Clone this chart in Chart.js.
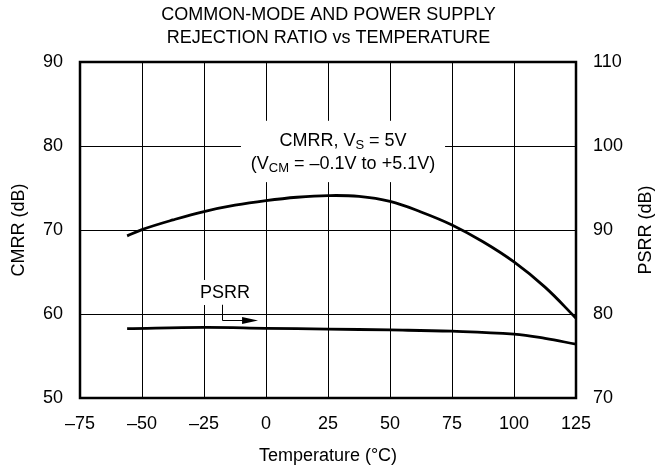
<!DOCTYPE html>
<html>
<head>
<meta charset="utf-8">
<script src="https://cdn.jsdelivr.net/npm/chart.js@4.4.0/dist/chart.umd.min.js"></script>
<style>
  html, body { margin: 0; padding: 0; background: #fff; }
  canvas { display: block; }
</style>
</head>
<body>
<canvas id="chart" width="657" height="470"></canvas>
<script>
const FONT = "'Liberation Sans', Arial, Helvetica, sans-serif";
const SIZE = 18;

// temperature (°C) vs CMRR (dB, left axis)
const cmrrTemps = [-56, -50, -37.5, -25, -12.5, 0, 12.5, 25, 37.5, 50, 62.5, 75, 87.5, 100, 112.5, 125];
const cmrrValues = [69.3, 70.05, 71.2, 72.2, 72.95, 73.5, 73.9, 74.1, 74.0, 73.4, 72.15, 70.6, 68.6, 66.2, 63.2, 59.5];

// temperature (°C) vs PSRR (dB, right axis)
const psrrTemps = [-56, -25, 0, 25, 50, 75, 100, 112.5, 125];
const psrrValues = [78.25, 78.4, 78.3, 78.2, 78.1, 77.95, 77.6, 77.1, 76.4];

const xTicks = [-75, -50, -25, 0, 25, 50, 75, 100, 125];
const leftTicks = [50, 60, 70, 80, 90];
const rightTicks = [70, 80, 90, 100, 110];

const titleLines = ["COMMON-MODE AND POWER SUPPLY", "REJECTION RATIO vs TEMPERATURE"];

const toPoints = (xs, ys) => xs.map((x, i) => ({ x: x, y: ys[i] }));
const dash = v => String(v).replace("-", "\u2013");

// labels, white boxes and the arrow, placed in data units of x / left y
const annotationPlugin = {
  id: "annotations",
  beforeDatasetsDraw(chart) {
    const ctx = chart.ctx;
    const x = chart.scales.x, y = chart.scales.y;
    const box = (x1, y1, x2, y2) => {
      const px = x.getPixelForValue(x1), py = y.getPixelForValue(y1);
      ctx.fillRect(px, py, x.getPixelForValue(x2) - px, y.getPixelForValue(y2) - py);
    };
    ctx.save();
    ctx.fillStyle = "#fff";
    box(-10.1, 83.0, 72.2, 75.7);
    box(-28.6, 64.05, -4.4, 61.07);

    ctx.fillStyle = "#000";
    const cx = x.getPixelForValue(31.05);
    drawRich(ctx, [["CMRR, V"], ["S", true], [" = 5V"]], cx, y.getPixelForValue(80.65));
    drawRich(ctx, [["(V"], ["CM", true], [" = \u20130.1V to +5.1V)"]], cx, y.getPixelForValue(77.9));
    drawRich(ctx, [["PSRR"]], x.getPixelForValue(-16.5), y.getPixelForValue(62.5));

    // arrow pointing at the PSRR curve
    const ax = Math.round(x.getPixelForValue(-17.7));
    const ay1 = y.getPixelForValue(61.1), ay2 = Math.round(y.getPixelForValue(59.3));
    const tip = x.getPixelForValue(-3.2);
    ctx.strokeStyle = "#000";
    ctx.lineWidth = 1;
    ctx.beginPath();
    ctx.moveTo(ax + 0.5, ay1);
    ctx.lineTo(ax + 0.5, ay2 + 0.5);
    ctx.lineTo(tip - 12, ay2 + 0.5);
    ctx.stroke();
    ctx.beginPath();
    ctx.moveTo(tip, ay2 + 0.5);
    ctx.lineTo(tip - 16, ay2 - 3);
    ctx.lineTo(tip - 16, ay2 + 4);
    ctx.closePath();
    ctx.fill();

    // right axis title, reading bottom to top like the left one
    ctx.font = SIZE + "px " + FONT;
    ctx.textAlign = "center";
    ctx.textBaseline = "middle";
    ctx.translate(646, (chart.chartArea.top + chart.chartArea.bottom) / 2);
    ctx.rotate(-Math.PI / 2);
    ctx.fillText("PSRR (dB)", 0, 0);
    ctx.restore();
  },
  afterDraw(chart) {
    const ctx = chart.ctx;
    const a = chart.chartArea;
    ctx.save();
    ctx.strokeStyle = "#000";
    ctx.lineWidth = 2.5;
    ctx.strokeRect(a.left, a.top, a.right - a.left, a.bottom - a.top);
    ctx.restore();
  }
};

function drawRich(ctx, parts, cx, cy) {
  const main = SIZE + "px " + FONT, sub = "13px " + FONT;
  let total = 0;
  parts.forEach(p => { ctx.font = p[1] ? sub : main; total += ctx.measureText(p[0]).width; });
  let px = cx - total / 2;
  ctx.textAlign = "left";
  ctx.textBaseline = "middle";
  parts.forEach(p => {
    ctx.font = p[1] ? sub : main;
    ctx.fillText(p[0], px, p[1] ? cy + 5 : cy);
    px += ctx.measureText(p[0]).width;
  });
}

new Chart(document.getElementById("chart"), {
  type: "line",
  data: {
    datasets: [
      {
        label: "CMRR",
        data: toPoints(cmrrTemps, cmrrValues),
        yAxisID: "y",
        borderColor: "#000",
        borderWidth: 2.8,
        pointRadius: 0,
        tension: 0.4
      },
      {
        label: "PSRR",
        data: toPoints(psrrTemps, psrrValues),
        yAxisID: "y2",
        borderColor: "#000",
        borderWidth: 2.8,
        pointRadius: 0,
        tension: 0.4
      }
    ]
  },
  options: {
    responsive: false,
    animation: false,
    devicePixelRatio: 1,
    layout: { padding: 0 },
    plugins: {
      legend: { display: false },
      tooltip: { enabled: false },
      title: {
        display: true,
        text: titleLines,
        color: "#000",
        font: { family: FONT, size: SIZE, weight: "normal", lineHeight: 23 / 18 },
        padding: { top: 4, bottom: 12 }
      }
    },
    scales: {
      x: {
        type: "linear",
        min: xTicks[0],
        max: xTicks[xTicks.length - 1],
        afterFit: s => { s.height = 72; },
        afterBuildTicks: s => { s.ticks = xTicks.map(v => ({ value: v })); },
        border: { display: false },
        grid: { color: "#000", lineWidth: 1, drawTicks: false },
        ticks: { color: "#000", padding: 15, font: { family: FONT, size: SIZE }, callback: dash },
        title: {
          display: true,
          text: "Temperature (\u00b0C)",
          color: "#000",
          font: { family: FONT, size: SIZE },
          padding: { top: 0, bottom: 3 }
        }
      },
      y: {
        position: "left",
        min: leftTicks[0],
        max: leftTicks[leftTicks.length - 1],
        afterFit: s => { s.width = 80; },
        afterBuildTicks: s => { s.ticks = leftTicks.map(v => ({ value: v })); },
        border: { display: false },
        grid: { color: "#000", lineWidth: 1, drawTicks: false },
        ticks: { color: "#000", padding: 17, font: { family: FONT, size: SIZE } },
        title: {
          display: true,
          text: "CMRR (dB)",
          color: "#000",
          font: { family: FONT, size: SIZE },
          padding: { top: 8, bottom: 0 }
        }
      },
      y2: {
        position: "right",
        min: rightTicks[0],
        max: rightTicks[rightTicks.length - 1],
        afterFit: s => { s.width = 81; },
        afterBuildTicks: s => { s.ticks = rightTicks.map(v => ({ value: v })); },
        border: { display: false },
        grid: { drawOnChartArea: false, drawTicks: false },
        ticks: { color: "#000", padding: 17, font: { family: FONT, size: SIZE } }
      }
    }
  },
  plugins: [annotationPlugin]
});
</script>
</body>
</html>
